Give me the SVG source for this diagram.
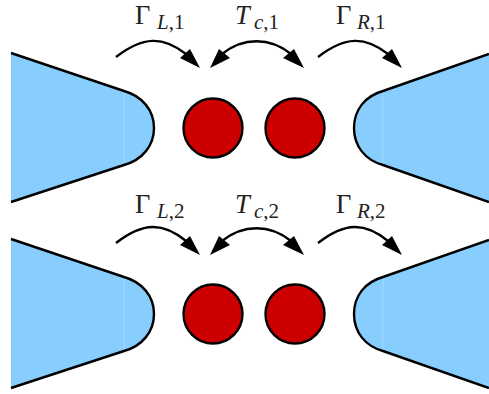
<svg xmlns="http://www.w3.org/2000/svg" width="489" height="394" viewBox="0 0 489 394">
<style>
.lead{fill:#87ceff;stroke:none}
.edge{fill:none;stroke:#000;stroke-width:2.4}
.dot{fill:#cc0000;stroke:#000;stroke-width:2.4}
.arc{fill:none;stroke:#000;stroke-width:2.4}
.head{fill:#000;stroke:none}
text{font-family:"Liberation Serif",serif;fill:#222}
.g{font-size:26.5px}
.s{font-size:21px}
.i{font-style:italic}
</style>
<defs>
<g id="leadL">
<path class="lead" d="M11 53L124 91C142 96 154 110 154 128C154 146 142 160 124 165L11 202Z"/>
<path d="M124 92V164" stroke="#a8dcff" stroke-width="0.8" fill="none"/>
<path class="edge" d="M11 53L124 91C142 96 154 110 154 128C154 146 142 160 124 165L11 202"/>
</g>
<g id="leadR">
<path class="lead" d="M489 54L383 91C365 96 354 110 354 128C354 146 365 160 383 165L489 202Z"/>
<path d="M383 92V164" stroke="#a8dcff" stroke-width="0.8" fill="none"/>
<path class="edge" d="M489 54L383 91C365 96 354 110 354 128C354 146 365 160 383 165L489 202"/>
</g>
</defs>
<g id="lead-l1"><use href="#leadL"/></g>
<g id="lead-r1"><use href="#leadR"/></g>
<g id="lead-l2"><use href="#leadL" y="186"/></g>
<g id="lead-r2"><use href="#leadR" y="186"/></g>
<g id="dot-1a"><circle class="dot" cx="213" cy="128" r="29.5"/></g>
<g id="dot-1b"><circle class="dot" cx="295" cy="128" r="29.5"/></g>
<g id="dot-2a"><circle class="dot" cx="213" cy="314" r="29.5"/></g>
<g id="dot-2b"><circle class="dot" cx="295" cy="314" r="29.5"/></g>
<g id="connectors">
<path class="arc" d="M116 57C143 36 163 36 186 54"/><path class="head" d="M200 68L180 58L190 49Z"/>
<path class="arc" d="M318 57C345 36 365 36 388 54"/><path class="head" d="M402 68L382 58L392 49Z"/>
<path class="arc" d="M222 54C243 37 270 37 291 54"/><path class="head" d="M210 68L219 49L230 58Z"/><path class="head" d="M304 68L283 58L294 49Z"/>
<path class="arc" d="M116 243C143 222 163 222 186 241"/><path class="head" d="M200 255L180 245L190 236Z"/>
<path class="arc" d="M318 243C345 222 365 222 388 241"/><path class="head" d="M402 255L382 245L392 236Z"/>
<path class="arc" d="M222 241C243 224 270 224 291 241"/><path class="head" d="M210 255L219 236L230 245Z"/><path class="head" d="M304 255L283 245L294 236Z"/>
</g>
<text class="g" x="135" y="24">Γ</text><text class="s i" x="157" y="29">L<tspan font-style="normal">,1</tspan></text>
<text class="g i" x="235" y="24">T</text><text class="s i" x="254" y="29">c<tspan font-style="normal">,1</tspan></text>
<text class="g" x="336" y="24">Γ</text><text class="s i" x="357" y="29">R<tspan font-style="normal">,1</tspan></text>
<text class="g" x="135" y="213">Γ</text><text class="s i" x="157" y="218">L<tspan font-style="normal">,2</tspan></text>
<text class="g i" x="235" y="213">T</text><text class="s i" x="254" y="218">c<tspan font-style="normal">,2</tspan></text>
<text class="g" x="336" y="213">Γ</text><text class="s i" x="357" y="218">R<tspan font-style="normal">,2</tspan></text>
</svg>
